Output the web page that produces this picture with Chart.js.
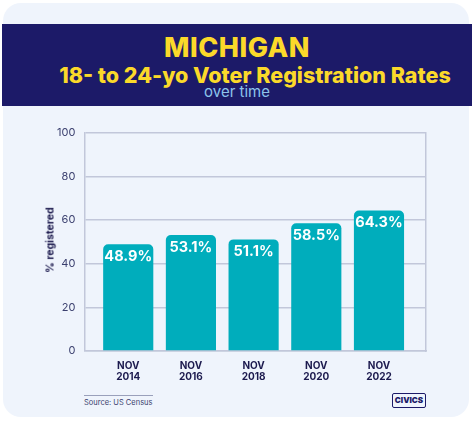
<!DOCTYPE html>
<html>
<head>
<meta charset="utf-8">
<script src="https://cdn.jsdelivr.net/npm/chart.js@4.4.0/dist/chart.umd.min.js"></script>
<style>
  html, body { margin: 0; padding: 0; background: #ffffff; }
  body { width: 474px; height: 422px; position: relative; overflow: hidden; font-family: Inter, "Open Sans", sans-serif; }
  .card { position: absolute; left: 3px; top: 3px; width: 466px; height: 414px; background: #eff4fc; border-radius: 18px; }
  .banner { position: absolute; left: 2px; top: 24px; width: 470px; height: 82px; background: #1c1a68; text-align: center; }
  .t1 { position: absolute; left: 0; right: 0; top: 7px; color: #fbd92a; font-weight: 800; font-size: 27px; letter-spacing: 0.5px; }
  .t2 { position: absolute; left: 36px; right: 0; top: 38px; color: #fbd92a; font-weight: 800; font-size: 21.5px; }
  .t3 { position: absolute; left: 0; right: 0; top: 58px; color: #8cc4ec; font-size: 15px; }
  .wrap { position: absolute; left: 48px; top: 117px; width: 402px; height: 267px; }
  .ytitle { position: absolute; left: 50px; top: 240px; transform: translate(-50%, -50%) rotate(-90deg); font-size: 10.5px; font-weight: 700; color: #1c1a4e; white-space: nowrap; }
  .src { position: absolute; left: 84px; top: 395px; font-size: 7.5px; color: #3a3f6e; border-top: 1px solid #9aa0bb; padding-top: 2px; white-space: nowrap; }
  .logo { position: absolute; left: 392px; top: 393px; width: 32px; height: 13px; border: 1px solid #1c1a68; border-radius: 2px; font-size: 8px; font-weight: 900; color: #1c1a68; text-align: center; line-height: 13px; }
</style>
</head>
<body>
<div class="card"></div>
<div class="banner">
  <div class="t1">MICHIGAN</div>
  <div class="t2">18- to 24-yo Voter Registration Rates</div>
  <div class="t3">over time</div>
</div>
<div class="wrap"><canvas id="myChart"></canvas></div>
<div class="ytitle">% registered</div>
<div class="src">Source: US Census</div>
<div class="logo">CIVICS</div>
<script>
const years = [["NOV", "2014"], ["NOV", "2016"], ["NOV", "2018"], ["NOV", "2020"], ["NOV", "2022"]];
const rates = [48.9, 53.1, 51.1, 58.5, 64.3];
const yTicks = [0, 20, 40, 60, 80, 100];

//labels inside the bars
const barLabels = {
  id: "barLabels",
  afterDatasetsDraw(chart) {
    const ctx = chart.ctx;
    const meta = chart.getDatasetMeta(0);
    ctx.save();
    ctx.fillStyle = "#ffffff";
    ctx.font = "bold 14.5px Inter, sans-serif";
    ctx.textAlign = "center";
    ctx.textBaseline = "top";
    meta.data.forEach((bar, i) => {
      ctx.fillText(rates[i].toFixed(1) + "%", bar.x, bar.y + 5);
    });
    ctx.restore();
  },
};

const config = {
  type: "bar",
  data: {
    datasets: [
      {
        data: rates.map((v, i) => ({ x: i, y: v })),
        backgroundColor: "#00adbc",
        borderRadius: { topLeft: 5, topRight: 5 },
        borderSkipped: "bottom",
        categoryPercentage: 1,
        barPercentage: 0.8,
      },
    ],
  },
  options: {
    responsive: true,
    maintainAspectRatio: false,
    animation: false,
    layout: { padding: { left: 0, right: 16, top: 8, bottom: 0 } },
    plugins: {
      legend: { display: false },
      tooltip: { enabled: false },
    },
    scales: {
      x: {
        type: "linear",
        min: -0.7,
        max: 4.75,
        offset: false,
        afterBuildTicks: (axis) => { axis.ticks = years.map((y, i) => ({ value: i })); },
        grid: { display: false },
        border: { color: "#c2c7da", width: 1.5 },
        ticks: {
          color: "#1c1a4e",
          font: { family: "Inter", size: 10, weight: "bold", lineHeight: 1.05 },
          padding: 2,
          callback: (value) => years[value],
        },
      },
      y: {
        min: 0,
        max: 100,
        afterBuildTicks: (axis) => { axis.ticks = yTicks.map((v) => ({ value: v })); },
        grid: { color: "#c2c7da", lineWidth: 1.5, drawTicks: false },
        border: { color: "#c2c7da", width: 1.5 },
        ticks: { color: "#3a3f6e", font: { family: "Inter", size: 11 }, padding: 9 },
      },
      y2: {
        position: "right",
        min: 0,
        max: 100,
        grid: { display: false },
        border: { color: "#c2c7da", width: 1.5 },
        ticks: { display: false },
      },
    },
  },
  plugins: [barLabels],
};

const ctx = document.getElementById("myChart").getContext("2d");
new Chart(ctx, config);
</script>
</body>
</html>
